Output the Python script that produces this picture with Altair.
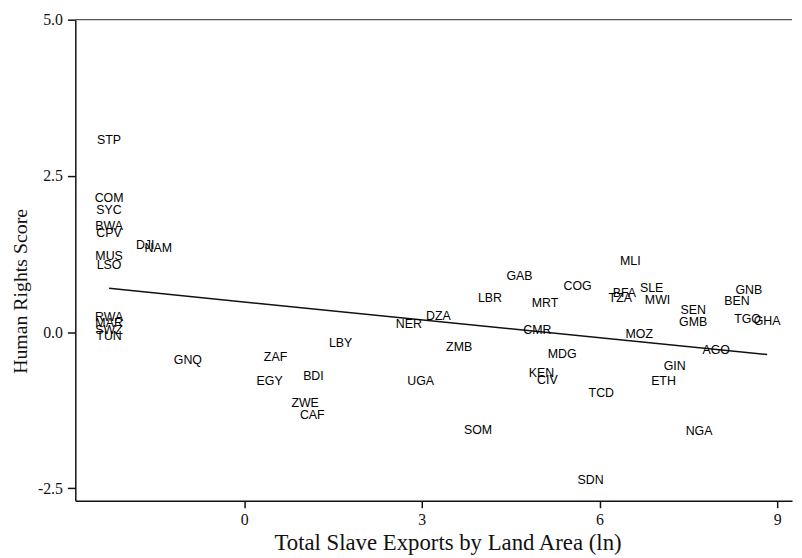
import altair as alt
import pandas as pd

codes = ["STP", "COM", "SYC", "BWA", "CPV", "MUS", "LSO", "DJI", "NAM",
         "RWA", "MAR", "SWZ", "TUN", "GNQ", "ZAF", "EGY", "BDI", "ZWE",
         "CAF", "LBY", "NER", "DZA", "ZMB", "UGA", "SOM", "LBR", "GAB",
         "MRT", "COG", "CMR", "MDG", "KEN", "CIV", "TCD", "SDN", "MLI",
         "BFA", "TZA", "SLE", "MWI", "MOZ", "SEN", "GMB", "GIN", "ETH",
         "NGA", "AGO", "GNB", "BEN", "TGO", "GHA"]
slave_exports = [-2.28, -2.28, -2.28, -2.28, -2.28, -2.28, -2.28, -1.67, -1.45,
                 -2.28, -2.28, -2.28, -2.28, -0.95, 0.53, 0.43, 1.17, 1.03,
                 1.15, 1.63, 2.78, 3.28, 3.63, 2.98, 3.95, 4.15, 4.65,
                 5.08, 5.63, 4.95, 5.37, 5.02, 5.12, 6.03, 5.85, 6.52,
                 6.42, 6.35, 6.88, 6.98, 6.67, 7.58, 7.58, 7.27, 7.08,
                 7.68, 7.97, 8.52, 8.32, 8.50, 8.83]
human_rights = [3.07, 2.15, 1.96, 1.69, 1.58, 1.22, 1.08, 1.39, 1.34,
                0.24, 0.14, 0.03, -0.06, -0.44, -0.40, -0.78, -0.71, -1.14,
                -1.33, -0.17, 0.13, 0.25, -0.24, -0.79, -1.57, 0.54, 0.90,
                0.46, 0.74, 0.03, -0.35, -0.66, -0.76, -0.97, -2.37, 1.14,
                0.62, 0.55, 0.70, 0.51, -0.03, 0.35, 0.16, -0.55, -0.79,
                -1.58, -0.28, 0.68, 0.49, 0.21, 0.17]

fit_x = [-2.28, 8.83]
fit_y = [0.70, -0.36]

x_ticks = [0, 3, 6, 9]
y_ticks = [-2.5, 0.0, 2.5, 5.0]

df = pd.DataFrame({"code": codes, "x": slave_exports, "y": human_rights})
fit = pd.DataFrame({"x": fit_x, "y": fit_y})

W, H = 724, 486
x_scale = alt.Scale(domain=[-2.85, 9.25], nice=False, zero=False)
y_scale = alt.Scale(domain=[-2.7, 5.0], nice=False, zero=False)

serif = "Liberation Serif"

x_axis = alt.Axis(values=x_ticks, format="d", grid=False,
                  title="Total Slave Exports by Land Area (ln)",
                  labelFont=serif, labelFontSize=16, labelColor="#111",
                  titleFont=serif, titleFontSize=23, titleFontWeight="normal",
                  titleColor="#111", titleX=376, titleY=49,
                  titleAlign="center", titleBaseline="alphabetic",
                  labelPadding=4,
                  tickSize=7, tickWidth=1.5, tickColor="#111",
                  domainColor="#111", domainWidth=1.5)
y_axis = alt.Axis(values=y_ticks, format=".1f", grid=False,
                  labelExpr="replace(datum.label, '\u2212', '-')",
                  title="Human Rights Score",
                  labelFont=serif, labelFontSize=16, labelColor="#111",
                  titleFont=serif, titleFontSize=20, titleFontWeight="normal",
                  titleColor="#111", titleX=-55, titleY=274,
                  titleAlign="center", titleBaseline="middle", titleAngle=270,
                  labelPadding=5,
                  tickSize=8, tickWidth=1.5, tickColor="#111",
                  domainColor="#111", domainWidth=1.5)

labels = alt.Chart(df).mark_text(
    font="Liberation Sans", fontSize=12.5, color="#000",
    align="center", baseline="middle"
).encode(
    x=alt.X("x:Q", scale=x_scale, axis=x_axis),
    y=alt.Y("y:Q", scale=y_scale, axis=y_axis),
    text="code:N",
)

line = alt.Chart(fit).mark_line(color="#111", strokeWidth=1.5).encode(
    x=alt.X("x:Q", scale=x_scale),
    y=alt.Y("y:Q", scale=y_scale),
)

top_border = alt.Chart(pd.DataFrame({"a": [0]})).mark_rule(
    color="#555", strokeWidth=1.2
).encode(x=alt.value(0), x2=alt.value(W), y=alt.value(0))

chart = alt.layer(top_border, line, labels).properties(
    width=W, height=H,
    autosize=alt.AutoSizeParams(type="none"),
    padding={"left": 68, "top": 9, "right": 2, "bottom": 55},
    background="white",
).configure_view(stroke=None)

chart.save("out.html", embed_options={"renderer": "svg", "actions": False})
